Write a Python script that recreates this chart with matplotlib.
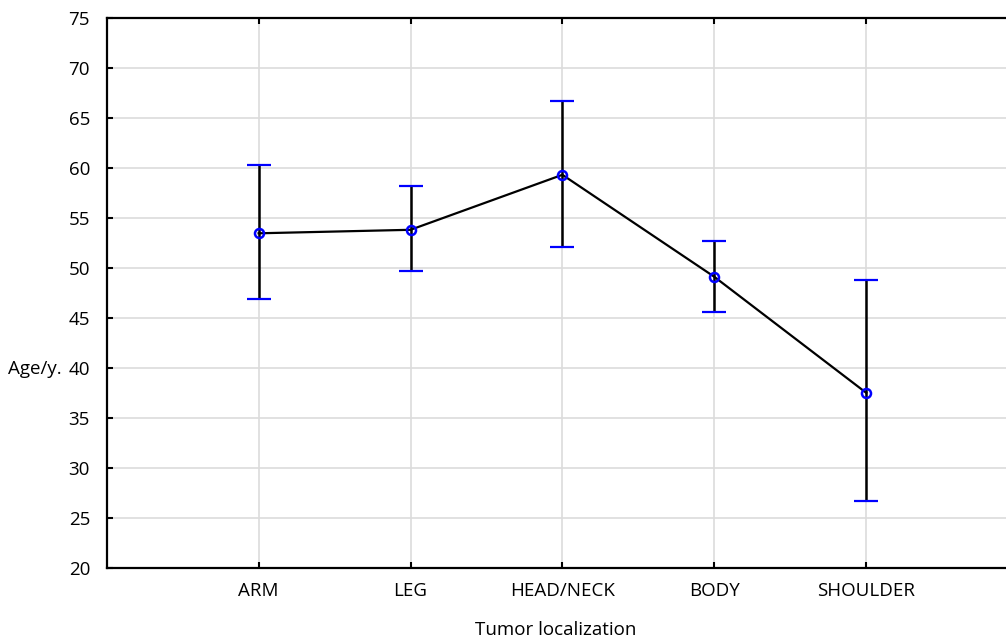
import matplotlib
matplotlib.use("Agg")
import matplotlib.pyplot as plt

categories = ["ARM", "LEG", "HEAD/NECK", "BODY", "SHOULDER"]
means = [53.5, 53.85, 59.35, 49.15, 37.55]
upper = [60.35, 58.25, 66.75, 52.7, 48.8]
lower = [46.9, 49.75, 52.15, 45.6, 26.7]
y_ticks = [20, 25, 30, 35, 40, 45, 50, 55, 60, 65, 70, 75]

plt.rcParams['font.family'] = ['Open Sans', 'DejaVu Sans']

W, H = 1006, 644
fig = plt.figure(figsize=(W / 100, H / 100), dpi=100)
ax = fig.add_axes([106.7 / W, 1 - 568.3 / H, 1 - 106.7 / W, (568.3 - 18.3) / H])

x = list(range(1, len(categories) + 1))
yerr = [[m - l for m, l in zip(means, lower)], [u - m for m, u in zip(means, upper)]]

line, caps, bars = ax.errorbar(x, means, yerr=yerr, fmt='-', color='black', lw=1.6,
                               ecolor='black', elinewidth=1.8, capsize=8.5, capthick=1.6,
                               zorder=3)
for c in caps:
    c.set_markeredgecolor('#0000ff')
ax.plot(x, means, 'o', mfc='none', mec='#0000ff', mew=1.8, ms=6.5, zorder=4)

ax.set_xlim(0, (W - 106.7) / 151.9)
ax.set_ylim(20, 75)
ax.set_yticks(y_ticks)
ax.set_xticks(x)
ax.set_xticklabels(categories)

ax.grid(True, color='#dcdcdc', lw=1.2)
ax.set_axisbelow(True)

for s in ['left', 'bottom', 'top']:
    ax.spines[s].set_linewidth(1.6)
ax.spines['right'].set_visible(False)

ax.tick_params(axis='both', direction='in', length=4, width=1.5, labelsize=13.5)
ax.tick_params(axis='x', top=True, pad=10)
ax.tick_params(axis='y', pad=12)

fig.text(556 / W, 1 - 630 / H, 'Tumor localization', ha='center', va='center', fontsize=13.5)
fig.text(8 / W, 1 - 369 / H, 'Age/y.', ha='left', va='center', fontsize=13.5)

fig.savefig('out.png', dpi=100)
